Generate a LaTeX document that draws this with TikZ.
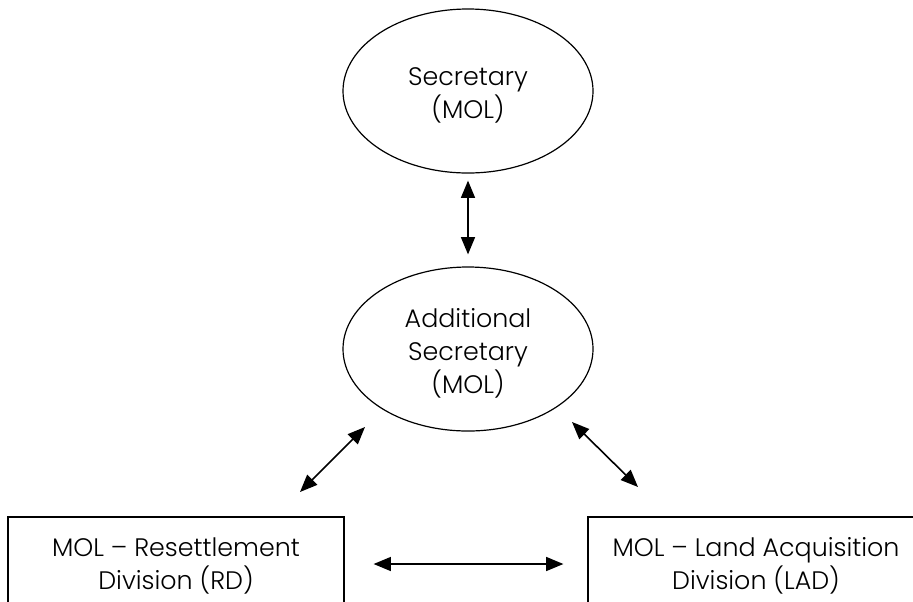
\documentclass[tikz,border=0pt]{standalone}
\usepackage{fontspec}
\setmainfont{Poppins Light}
\usetikzlibrary{shapes.geometric,arrows.meta}
\begin{document}
\begin{tikzpicture}[x=0.75pt,y=-0.75pt,
  every node/.style={font=\fontsize{19pt}{24.75pt}\selectfont, align=center, inner sep=0pt},
  oval/.style={draw, line width=0.9pt, ellipse, minimum width=187.5pt, minimum height=123pt},
  divbox/.style={draw, line width=0.9pt, rectangle, minimum width=252pt, minimum height=70.5pt},
  link/.style={line width=1.2pt, {Triangle[length=13pt,width=10.5pt]}-{Triangle[length=13pt,width=10.5pt]}}]
\useasboundingbox (0,0) rectangle (913,601);
\clip (0,0) rectangle (913,601);
\fill[white] (0,0) rectangle (913,601);
\node[oval] (sec) at (468,91) {};
\node (sectext) at (468,95) {Secretary\\(MOL)};
\node[oval] (add) at (468,349) {};
\node (addtext) at (468,353) {Additional\\Secretary\\(MOL)};
\node[divbox] (rd) at (176,564) {};
\node (rdtext) at (176,566) {MOL -- Resettlement\\Division (RD)};
\node[divbox] (lad) at (756,564) {};
\node (ladtext) at (756,566) {MOL -- Land Acquisition\\Division (LAD)};
\coordinate (l1) at (365,427);
\coordinate (l2) at (300,492);
\coordinate (r1) at (572,422);
\coordinate (r2) at (638,487);
\draw[link, shorten <=5.25pt, shorten >=9pt] (sec.south) -- (add.north);
\draw[link] (l1) -- (l2);
\draw[link] (r1) -- (r2);
\draw[link, shorten <=21.75pt, shorten >=18pt] (rd.east) -- (lad.west);
\end{tikzpicture}
\end{document}
